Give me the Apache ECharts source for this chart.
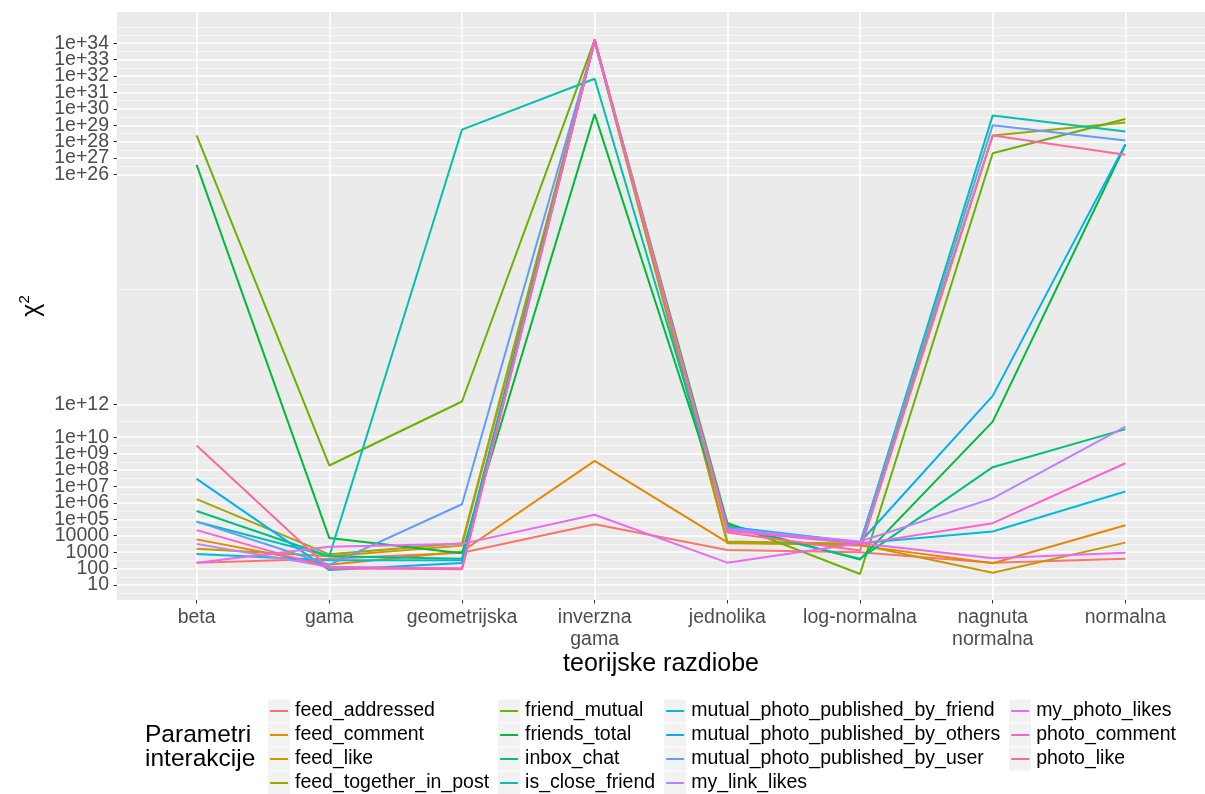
<!DOCTYPE html>
<html>
<head>
<meta charset="utf-8">
<script src="https://cdn.jsdelivr.net/npm/echarts@6/dist/echarts.min.js"></script>
<style>
    html, body { margin: 0; padding: 0; background: #ffffff; }
    #chart { width: 1205px; height: 794px; }
</style>
</head>
<body>
<div id="chart"></div>
<script>
// x categories (distributions)
const categories = ['beta', 'gama', 'geometrijska', 'inverzna gama', 'jednolika', 'log-normalna', 'nagnuta normalna', 'normalna']

// chi^2 per interaction parameter, one value per category
const feed_addressed = [230, 400, 930, 5.0e4, 1350, 1000, 230, 400]
const feed_comment = [6000, 170, 1100, 3.6e8, 4000, 2500, 210, 4.4e4]
const feed_like = [1600, 560, 2500, 1.3e34, 3500, 2800, 56, 3800]
const feed_together_in_post = [1.7e6, 740, 3500, 1.6e34, 4500, 3200, 2.4e28, 1.5e29]
const friend_mutual = [2.4e28, 1.9e8, 1.5e12, 1.6e34, 6.3e4, 47, 2.0e27, 2.4e29]
const friends_total = [3.9e26, 7200, 850, 4.8e29, 5.0e4, 350, 8.9e10, 6.5e27]
const inbox_chat = [3.2e5, 560, 400, 1.3e34, 3.5e4, 400, 1.5e8, 3.1e10]
const is_close_friend = [7.2e4, 560, 5.4e28, 6.8e31, 3.2e4, 3200, 4.0e29, 4.2e28]
const mutual_photo_published_by_friend = [780, 320, 320, 1.3e34, 3.2e4, 3500, 1.8e4, 4.9e6]
const mutual_photo_published_by_others = [2.9e7, 81, 220, 1.3e34, 3.5e4, 4000, 3.3e12, 7.1e27]
const mutual_photo_published_by_user = [7.2e4, 170, 8.3e5, 1.3e34, 3.2e4, 3500, 1.0e29, 1.2e28]
const my_link_likes = [3200, 130, 100, 1.3e34, 2.5e4, 4500, 1.9e6, 4.5e10]
const my_photo_likes = [230, 2100, 3200, 1.9e5, 230, 3500, 430, 930]
const photo_comment = [2.2e4, 110, 90, 1.6e34, 2.0e4, 3200, 5.8e4, 2.6e8]
const photo_like = [3.1e9, 100, 100, 1.8e34, 1.6e4, 1260, 2.4e28, 1.6e27]

const seriesNames = ['feed_addressed', 'feed_comment', 'feed_like', 'feed_together_in_post',
    'friend_mutual', 'friends_total', 'inbox_chat', 'is_close_friend',
    'mutual_photo_published_by_friend', 'mutual_photo_published_by_others', 'mutual_photo_published_by_user', 'my_link_likes',
    'my_photo_likes', 'photo_comment', 'photo_like']
const seriesValues = [feed_addressed, feed_comment, feed_like, feed_together_in_post,
    friend_mutual, friends_total, inbox_chat, is_close_friend,
    mutual_photo_published_by_friend, mutual_photo_published_by_others, mutual_photo_published_by_user, my_link_likes,
    my_photo_likes, photo_comment, photo_like]

// y axis breaks (log10 scale)
const yTickValues = [10, 100, 1000, 1e4, 1e5, 1e6, 1e7, 1e8, 1e9, 1e10, 1e12,
    1e26, 1e27, 1e28, 1e29, 1e30, 1e31, 1e32, 1e33, 1e34]
const yTickLabels = ['10', '100', '1000', '10000', '1e+05', '1e+06', '1e+07', '1e+08', '1e+09', '1e+10', '1e+12',
    '1e+26', '1e+27', '1e+28', '1e+29', '1e+30', '1e+31', '1e+32', '1e+33', '1e+34']

const palette = ['#F8766D', '#E58700', '#C99800', '#A3A500', '#6BB100', '#00BA38', '#00BF7D', '#00C0AF',
    '#00BCD8', '#00B0F6', '#619CFF', '#B983FF', '#E76BF3', '#FD61D1', '#FF67A4']

const FONT = '"Liberation Sans", Arial, sans-serif'
const Y_MIN = 0.086
const Y_MAX = 35.9

const yTickLogs = yTickValues.map(v => Math.round(Math.log10(v)))
// labels split over two axes so echarts does not drop crowded neighbours
const yLabelsEven = yTickLogs.filter((v, i) => i % 2 === 0)
const yLabelsOdd = yTickLogs.filter((v, i) => i % 2 === 1)
// ggplot style minor breaks: midpoints of (extended) major breaks
let ext = [2 * yTickLogs[0] - yTickLogs[1]].concat(yTickLogs, [2 * yTickLogs[yTickLogs.length - 1] - yTickLogs[yTickLogs.length - 2]])
let minorLogs = [ext[ext.length - 1]]
for (let i = 0; i < ext.length - 1; i++) {
    minorLogs.push((ext[i] + ext[i + 1]) / 2)
}
minorLogs = minorLogs.filter(v => v > Y_MIN && v < Y_MAX)

const xPositions = categories.map((c, i) => i)

const myChart = echarts.init(document.getElementById('chart'), null, { renderer: 'canvas' })

const series = seriesNames.map((name, i) => ({
    name: name,
    type: 'line',
    data: seriesValues[i].map((v, j) => [j, Math.log10(v)]),
    symbol: 'none',
    showSymbol: false,
    silent: true,
    lineStyle: { width: 2, color: palette[i] },
    itemStyle: { color: palette[i] },
    z: 3
}))

const legendBase = {
    orient: 'vertical',
    left: 268,
    top: 699,
    height: 100,
    padding: 0,
    itemGap: 0,
    itemWidth: 22,
    itemHeight: 23,
    selectedMode: false,
    data: seriesNames
}

const yLabelStyle = {
    margin: 8,
    fontFamily: FONT,
    fontSize: 19.5,
    lineHeight: 14,
    color: '#4D4D4D',
    showMinLabel: true,
    showMaxLabel: true,
    hideOverlap: false,
    formatter: v => {
        const i = yTickLogs.indexOf(Math.round(v))
        return i >= 0 ? yTickLabels[i] : ''
    }
}

myChart.setOption({
    animation: false,
    backgroundColor: '#ffffff',
    title: {
        text: 'Parametri\ninterakcije',
        left: 145,
        top: 723,
        padding: 0,
        textStyle: { fontFamily: FONT, fontSize: 24.5, fontWeight: 'normal', color: '#000000', lineHeight: 24 }
    },
    legend: [
        Object.assign({}, legendBase, {
            icon: 'rect',
            itemStyle: { color: '#F2F2F2', borderWidth: 0 },
            textStyle: { fontFamily: FONT, fontSize: 19.5, color: '#000000', lineHeight: 24, padding: [0, 9, 0, 0] },
            z: 2
        }),
        Object.assign({}, legendBase, {
            icon: 'path://M0,0L0,0M2,10.5L20,10.5L20,12.5L2,12.5ZM22,23L22,23',
            symbolKeepAspect: false,
            itemStyle: { borderWidth: 0 },
            textStyle: { fontFamily: FONT, fontSize: 19.5, color: 'rgba(0,0,0,0)', lineHeight: 24, padding: [0, 9, 0, 0] },
            z: 3
        })
    ],
    grid: {
        left: 117,
        right: 0,
        top: 12,
        bottom: 194,
        show: true,
        backgroundColor: '#EBEBEB',
        borderWidth: 0
    },
    xAxis: {
        type: 'value',
        min: -0.6,
        max: 7.6,
        name: 'teorijske razdiobe',
        nameLocation: 'middle',
        nameGap: 52,
        nameMoveOverlap: false,
        nameTextStyle: { fontFamily: FONT, fontSize: 25, color: '#000000' },
        axisLine: { show: false, onZero: false },
        axisTick: { show: true, length: 3.5, customValues: xPositions, lineStyle: { color: '#333333', width: 1 } },
        axisLabel: {
            customValues: xPositions,
            margin: 7,
            fontFamily: FONT,
            fontSize: 19.5,
            lineHeight: 22,
            color: '#4D4D4D',
            showMinLabel: true,
            showMaxLabel: true,
            formatter: v => categories[Math.round(v)].replace(' ', '\n')
        },
        splitLine: { show: true, lineStyle: { color: '#ffffff', width: 1.6 } }
    },
    yAxis: [
        {
            type: 'value',
            min: Y_MIN,
            max: Y_MAX,
            name: '{c|χ}{s|2}',
            nameLocation: 'middle',
            nameRotate: 90,
            nameGap: 70,
            nameMoveOverlap: false,
            nameTextStyle: {
                rich: {
                    c: { fontFamily: FONT, fontSize: 25, color: '#000000', lineHeight: 30 },
                    s: { fontFamily: FONT, fontSize: 15, color: '#000000', lineHeight: 16, verticalAlign: 'top' }
                }
            },
            axisLine: { show: false, onZero: false },
            axisTick: { show: true, length: 3.5, customValues: yTickLogs, lineStyle: { color: '#333333', width: 1 } },
            axisLabel: Object.assign({ customValues: yLabelsEven }, yLabelStyle),
            splitLine: { show: true, lineStyle: { color: '#ffffff', width: 1.6 } },
            z: 2
        },
        {
            type: 'value',
            min: Y_MIN,
            max: Y_MAX,
            position: 'left',
            axisLine: { show: false, onZero: false },
            axisTick: { show: false, customValues: minorLogs },
            axisLabel: { show: false, customValues: minorLogs },
            splitLine: { show: true, lineStyle: { color: '#F7F7F7', width: 0.9 } },
            z: 1
        },
        {
            type: 'value',
            min: Y_MIN,
            max: Y_MAX,
            position: 'left',
            axisLine: { show: false, onZero: false },
            axisTick: { show: false },
            axisLabel: Object.assign({ customValues: yLabelsOdd }, yLabelStyle),
            splitLine: { show: false },
            z: 2
        }
    ],
    series: series
})
</script>
</body>
</html>
